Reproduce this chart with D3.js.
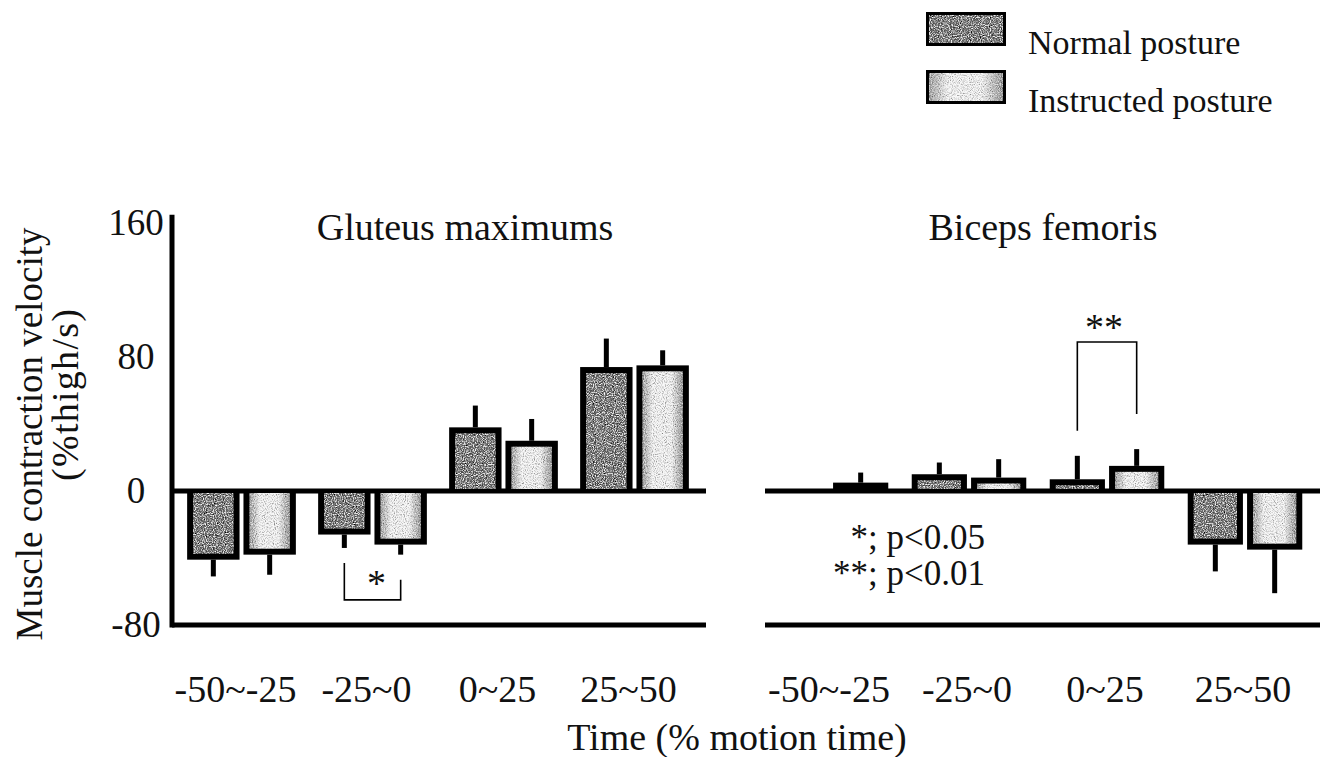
<!DOCTYPE html>
<html lang="en">
<head>
    <meta charset="utf-8">
    <title>Muscle contraction velocity</title>
    <script type="text/javascript" src="https://d3js.org/d3.v7.min.js"></script>
    <style type="text/css">
        body { margin: 0; background: #fff; }
        text {
            font-family: "Liberation Serif", "DejaVu Serif", serif;
            fill: #111;
        }
    </style>
</head>
<body>
<svg width="1329" height="757"></svg>
<script type="text/javascript">

    // time windows on the x axis
    const groups = ["-50~-25", "-25~0", "0~25", "25~50"];
    const yTicks = [-80, 0, 80, 160];

    // Gluteus maximums (mean and SD)
    const gluteusNormal = [-41, -26, 38, 74];
    const gluteusNormalSD = [10, 8, 13, 17];
    const gluteusInstructed = [-38, -32, 30, 75];
    const gluteusInstructedSD = [12, 6, 13, 9];

    // Biceps femoris (mean and SD)
    const bicepsNormal = [0, 10, 7, -32];
    const bicepsNormalSD = [0, 7, 14, 16];
    const bicepsInstructed = [5, 8, 15, -35];
    const bicepsInstructedSD = [6, 11, 10, 26];

    // significance brackets: [left end, right end, bar level]
    const gluteusBracket = [-43, -53, -65];
    const bicepsBracket = [36, 46, 89];

    const svg = d3.select("svg");
    const width = 1329;
    const height = 757;

    const y = d3.scaleLinear().domain([-80, 160]).range([625, 223]);

    // fills and grain
    const defs = svg.append("defs");
    const lg = defs.append("linearGradient").attr("id", "lightFill");
    lg.append("stop").attr("offset", "0%").attr("stop-color", "#9a9a9a");
    lg.append("stop").attr("offset", "25%").attr("stop-color", "#f6f6f6");
    lg.append("stop").attr("offset", "72%").attr("stop-color", "#f6f6f6");
    lg.append("stop").attr("offset", "100%").attr("stop-color", "#909090");

    function grain(id, strength, seed) {
        const f = defs.append("filter").attr("id", id)
            .attr("x", 0).attr("y", 0).attr("width", 1).attr("height", 1);
        f.append("feTurbulence").attr("type", "fractalNoise")
            .attr("baseFrequency", 0.9).attr("numOctaves", 1).attr("seed", seed).attr("result", "n");
        f.append("feColorMatrix").attr("in", "n").attr("type", "matrix")
            .attr("values", `0 0 0 0 0  0 0 0 0 0  0 0 0 0 0  ${strength} 0 0 0 ${-strength * 0.5 + 0.15}`)
            .attr("result", "dark");
        f.append("feColorMatrix").attr("in", "n").attr("type", "matrix")
            .attr("values", `0 0 0 0 1  0 0 0 0 1  0 0 0 0 1  0 ${strength} 0 0 ${-strength * 0.5 + 0.1}`)
            .attr("result", "light");
        f.append("feComposite").attr("in", "dark").attr("in2", "SourceGraphic").attr("operator", "in").attr("result", "d2");
        f.append("feComposite").attr("in", "light").attr("in2", "SourceGraphic").attr("operator", "in").attr("result", "l2");
        const m = f.append("feMerge");
        m.append("feMergeNode").attr("in", "SourceGraphic");
        m.append("feMergeNode").attr("in", "d2");
        m.append("feMergeNode").attr("in", "l2");
    }
    grain("grainDark", 3.4, 4);
    grain("grainLight", 2.2, 9);

    const series = [
        {name: "Normal posture", fill: "#6c6c6c", filter: "url(#grainDark)"},
        {name: "Instructed posture", fill: "url(#lightFill)", filter: "url(#grainLight)"}
    ];

    const panels = [
        {
            title: "Gluteus maximums", range: [176, 700], lines: [172, 706],
            values: [gluteusNormal, gluteusInstructed], sd: [gluteusNormalSD, gluteusInstructedSD],
            bracket: gluteusBracket, bracketGroup: "-25~0", star: "*"
        },
        {
            title: "Biceps femoris", range: [762, 1314], lines: [765, 1320],
            values: [bicepsNormal, bicepsInstructed], sd: [bicepsNormalSD, bicepsInstructedSD],
            bracket: bicepsBracket, bracketGroup: "0~25", star: "**"
        }
    ];

    panels.forEach((p, pi) => {
        const x = d3.scaleBand().domain(groups).range(p.range);
        const step = x.bandwidth();
        const bw = step * 0.4;
        const gap = step * 0.03;
        const barX = (g, s) => x(g) + step / 2 + (s === 0 ? -gap / 2 - bw : gap / 2);

        const g = svg.append("g");

        // panel title
        g.append("text")
            .attr("x", pi === 0 ? 465 : 1043)
            .attr("y", 240)
            .attr("text-anchor", "middle")
            .style("font-size", "38px")
            .text(p.title);

        // zero line and bottom line
        [0, -80].forEach((v) => {
            g.append("line")
                .attr("x1", p.lines[0]).attr("x2", p.lines[1])
                .attr("y1", y(v)).attr("y2", y(v))
                .attr("stroke", "#000").attr("stroke-width", 5);
        });

        // bars
        series.forEach((s, si) => {
            const data = groups.map((grp, i) => ({grp: grp, v: p.values[si][i], sd: p.sd[si][i]}));
            const bars = g.append("g").selectAll("g").data(data).join("g");

            bars.append("rect")
                .attr("x", (d) => barX(d.grp, si))
                .attr("y", (d) => Math.min(y(d.v), y(0)))
                .attr("width", bw)
                .attr("height", (d) => Math.abs(y(d.v) - y(0)))
                .attr("fill", "#000");

            bars.filter((d) => Math.abs(y(d.v) - y(0)) > 10)
                .append("rect")
                .attr("x", (d) => barX(d.grp, si) + 6)
                .attr("y", (d) => d.v > 0 ? y(d.v) + 6 : y(0) + 2)
                .attr("width", bw - 12)
                .attr("height", (d) => Math.abs(y(d.v) - y(0)) - 8)
                .attr("fill", s.fill)
                .attr("filter", s.filter);

            // error bars point away from zero
            bars.filter((d) => d.sd > 0)
                .append("rect")
                .attr("x", (d) => barX(d.grp, si) + bw / 2 - 2.5)
                .attr("y", (d) => d.v >= 0 ? y(d.v + d.sd) : y(d.v))
                .attr("width", 5)
                .attr("height", (d) => Math.abs(y(d.v) - y(d.v + (d.v >= 0 ? d.sd : -d.sd))))
                .attr("fill", "#000");
        });

        // significance bracket
        const bx1 = barX(p.bracketGroup, 0) + bw / 2;
        const bx2 = barX(p.bracketGroup, 1) + bw / 2;
        const [yl, yr, yb] = p.bracket;
        g.append("path")
            .attr("d", `M${bx1},${y(yl)}V${y(yb)}H${bx2}V${y(yr)}`)
            .attr("fill", "none").attr("stroke", "#000").attr("stroke-width", 1.6);
        g.append("text")
            .attr("x", (bx1 + bx2) / 2 + (p.star === "*" ? 4 : -3))
            .attr("y", p.star === "*" ? y(yb) - 4 : y(yb) - 2)
            .attr("text-anchor", "middle")
            .style("font-size", "38px")
            .text(p.star);

        // category labels
        const ax = g.append("g")
            .attr("transform", `translate(0,${y(-80)})`)
            .call(d3.axisBottom(x).tickSize(0));
        ax.select(".domain").remove();
        ax.selectAll("text")
            .attr("y", 77).attr("dy", 0)
            .attr("x", pi === 0 ? -6 : -2)
            .style("font-family", "Liberation Serif, serif")
            .style("font-size", "38px")
            .attr("fill", "#111");
    });

    // y axis on the left panel only
    const yAxis = svg.append("g")
        .attr("transform", "translate(172,0)")
        .call(d3.axisLeft(y).tickValues(yTicks).tickSize(0).tickFormat((d) => String(d)));
    yAxis.select(".domain").remove();
    yAxis.selectAll("text")
        .attr("x", -36).attr("dy", "0.3em")
        .attr("text-anchor", "middle")
        .style("font-family", "Liberation Serif, serif")
        .style("font-size", "37px")
        .attr("fill", "#111");
    svg.append("line")
        .attr("x1", 172).attr("x2", 172)
        .attr("y1", y(165)).attr("y2", y(-80) + 2.5)
        .attr("stroke", "#000").attr("stroke-width", 5);

    // axis titles
    svg.append("text")
        .attr("transform", "translate(42,434) rotate(-90)")
        .attr("text-anchor", "middle")
        .style("font-size", "37px")
        .text("Muscle contraction velocity");
    svg.append("text")
        .attr("transform", "translate(78,395) rotate(-90)")
        .attr("text-anchor", "middle")
        .attr("textLength", 172)
        .attr("lengthAdjust", "spacing")
        .style("font-size", "38px")
        .text("(%thigh/s)");
    svg.append("text")
        .attr("x", 737).attr("y", 750)
        .attr("text-anchor", "middle")
        .style("font-size", "38px")
        .text("Time (% motion time)");

    // significance note
    svg.append("text")
        .attr("x", 985).attr("y", 549)
        .attr("text-anchor", "end")
        .style("font-size", "35px")
        .text("*; p<0.05");
    svg.append("text")
        .attr("x", 985).attr("y", 585)
        .attr("text-anchor", "end")
        .style("font-size", "35px")
        .text("**; p<0.01");

    // legend
    const legend = svg.append("g").selectAll("g").data(series).join("g")
        .attr("transform", (d, i) => `translate(926,${12 + i * 58})`);
    legend.append("rect")
        .attr("width", 80).attr("height", 34)
        .attr("fill", "#000");
    legend.append("rect")
        .attr("x", 3).attr("y", 3)
        .attr("width", 74).attr("height", 28)
        .attr("fill", (d) => d.fill)
        .attr("filter", (d) => d.filter);
    legend.append("text")
        .attr("x", 102).attr("y", 42)
        .style("font-size", "34px")
        .text((d) => d.name);

</script>
</body>
</html>
